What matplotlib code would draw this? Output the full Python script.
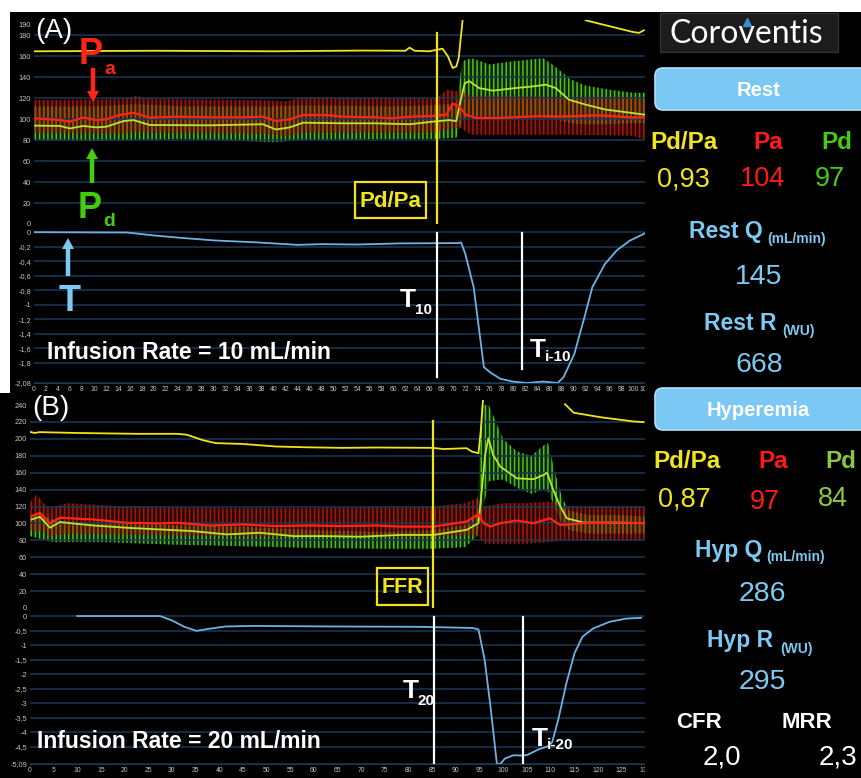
import numpy as np
import matplotlib
matplotlib.use('Agg')
import matplotlib.pyplot as plt
from matplotlib.patches import Rectangle, FancyBboxPatch

W, H = 861, 778
SANS = ['Liberation Sans', 'DejaVu Sans']
plt.rcParams['font.family'] = SANS
plt.rcParams['hatch.linewidth'] = 1.1

nan = np.nan

# ---------------- panel A : infusion 10 mL/min ----------------
a_xticks = list(range(0, 103, 2))
a_p_ticks = [0, 20, 40, 60, 80, 100, 120, 140, 160, 180, 190]
a_t_ticks = [0, -0.2, -0.4, -0.6, -0.8, -1, -1.2, -1.4, -1.6, -1.8, -2.08]
a_t_labels = ['0', '-0,2', '-0,4', '-0,6', '-0,8', '-1', '-1,2', '-1,4', '-1,6', '-1,8', '-2,08']

a_yel_x = [0, 20, 40, 55, 62, 62.7, 63.5, 66, 68.2, 69.1, 69.9, 70.5, 70.9, 71.6, nan,
           92.1, 96, 99.9, 101, 101.8]
a_yel_y = [164.5, 165, 164.5, 165.2, 165, 168, 165, 164.5, 167, 159.7, 148.6, 150, 158, 197, nan,
           194, 188.5, 183, 182, 184.5]

a_pa_x = [0, 4.3, 6, 8.2, 10.4, 12.1, 14.3, 16.6, 19.3, 23.8, 29.3, 34.9, 38.2, 40.4, 42.7,
          44.9, 48.8, 51.6, 57.1, 59.9, 62.7, 66.6, 68.8, 69.9, 71, 72.1, 73.8, 77.7, 83.2,
          88.8, 94.3, 99.9, 102]
a_pa_y = [100.6, 99, 97.5, 101.3, 99, 99.7, 103.8, 106, 101.3, 102.2, 101.6, 101.6, 102.2,
          98.1, 99.7, 103.8, 103.8, 102.2, 101.6, 100.6, 102.2, 103, 104, 114.6, 112, 104,
          101, 101, 102.5, 102.5, 103.5, 101.5, 101.5]

a_pd_x = [0, 4.3, 6, 8.2, 10.4, 12.1, 14.9, 16.6, 19.3, 29.3, 38.2, 40.4, 42.7, 44.9, 51.6,
          57.1, 62.7, 66.6, 69.3, 70.5, 71, 71.9, 72.7, 74.3, 76.6, 80.4, 83.2, 85.4, 87.1,
          89.3, 92.1, 95.4, 99.9, 102]
a_pd_y = [93.7, 93.4, 91, 93.4, 92, 92.7, 98, 99, 94.3, 94, 95, 90, 92, 96.5, 95.9, 95.9,
          95, 97.5, 99, 98, 112, 134, 136, 129.5, 127, 129.5, 131, 132.7, 129.5, 118.4,
          113.7, 109, 105.7, 104]

# pulsatile envelopes (diastolic / systolic)
a_pd_env_x = [0, 10, 17, 25, 40, 45, 60, 67, 70.5, 71.5, 73, 76, 80, 85, 87, 89.5, 92, 96, 100, 102]
a_pd_low = [80, 79, 80, 81, 78, 80, 81, 81, 82, 100, 102, 100, 100, 102, 100, 96, 95, 95, 96, 96]
a_pd_high = [112, 112, 114, 112, 112, 113, 112, 113, 115, 155, 158, 152, 155, 158, 150, 138,
             132, 128, 125, 125]
a_pa_env_x = [0, 15, 17, 20, 38, 42, 45, 67, 69, 71, 73, 80, 90, 100, 102]
a_pa_low = [87, 86, 88, 87, 86, 84, 87, 87, 90, 92, 85, 85, 85, 84, 80]
a_pa_high = [118, 119, 122, 119, 118, 117, 121, 119, 128, 126, 122, 122, 121, 121, 118]

a_t_x = [0, 15.6, 20, 24.8, 30.3, 37, 44, 48, 54, 61, 71, 71.3, 72, 73.4, 75.1, 76.1, 77.8,
         79.9, 82.3, 85, 87.4, 88.4, 90.2, 91.9, 93.2, 95.3, 97.3, 99.4, 102]
a_t_y = [0, -0.005, -0.045, -0.08, -0.115, -0.14, -0.175, -0.165, -0.17, -0.155, -0.15,
         -0.14, -0.3, -0.76, -1.86, -1.93, -2.02, -2.06, -2.08, -2.06, -2.08, -2.0, -1.68,
         -1.17, -0.76, -0.44, -0.25, -0.12, -0.015]

a_mark_ffr = 67.2
a_mark_t = 67.2
a_mark_ti = 81.4

# ---------------- panel B : infusion 20 mL/min ----------------
b_xticks = list(range(0, 131, 5))
b_p_ticks = [0, 20, 40, 60, 80, 100, 120, 140, 160, 180, 200, 220, 240]
b_t_ticks = [0, -0.5, -1, -1.5, -2, -2.5, -3, -3.5, -4, -4.5, -5.09]
b_t_labels = ['0', '-0,5', '-1', '-1,5', '-2', '-2,5', '-3', '-3,5', '-4', '-4,5', '-5,09']

b_yel_x = [0, 1, 2, 9.9, 22.6, 31, 33.1, 36.6, 39.3, 45, 52, 59, 66, 73.3, 85.1, 87.4, 92.3,
           93.4, 94.8, 95.3, 95.8, nan, 113.1, 114.9, 120.5, 127.6, 129.7]
b_yel_y = [208.3, 207, 208, 207, 206, 206, 205, 198.4, 195, 194, 191, 190, 189.4, 189.8,
           189.4, 188, 189, 185, 183, 210.7, 250, nan, 241, 231, 225.7, 220.6, 219.8]

b_pa_x = [0.35, 2.1, 4.2, 6.3, 13.4, 20.4, 27.5, 31, 38, 45, 52, 59.2, 66.2, 73.3, 78.2, 85.3,
          92.3, 94.8, 95.9, 97.3, 99.4, 102.9, 106.4, 109.9, 112.1, 117, 124.1, 129.7]
b_pa_y = [108.7, 112.6, 100, 106.7, 104.7, 100.8, 100, 100.8, 97.6, 98.8, 96.9, 97.6, 96.9,
          97.6, 96.3, 96.3, 102.2, 111.2, 100.3, 96.3, 100.3, 103.4, 100.3, 106, 98.2, 100.3,
          101.4, 100.3]

b_pd_x = [0.35, 2.1, 4.2, 6.3, 13.4, 20.4, 27.5, 34.5, 41.6, 48.6, 55.7, 62.7, 69.8, 78.2,
          85.3, 92.3, 94.8, 95.5, 96.2, 96.9, 97.9, 99.4, 102.9, 106.4, 108.6, 109.3, 110.6,
          112.1, 113.5, 117, 124.1, 129.7]
b_pd_y = [104.7, 107.9, 94.9, 101.6, 97.6, 94.9, 92.9, 90.9, 87, 89, 85, 85, 84.3, 86.4,
          86.4, 92.4, 100.3, 139.6, 181, 200.8, 181, 167.3, 153.4, 152.3, 157.5, 160.2, 139.6,
          119.9, 106, 101, 101, 100.3]

b_pd_env_x = [0, 2, 5, 15, 30, 45, 60, 75, 85, 92, 94.5, 95.5, 97, 100, 103, 106, 108.5, 109.5,
              111, 112.5, 114, 118, 125, 130]
b_pd_low = [85, 82, 78, 78, 75, 73, 71, 70, 70, 72, 85, 110, 150, 152, 142, 135, 140, 138, 118,
            100, 92, 88, 88, 88]
b_pd_high = [108, 112, 104, 100, 98, 96, 92, 90, 92, 98, 112, 240, 240, 200, 185, 180, 192, 195,
             160, 130, 115, 110, 110, 108]
b_pa_env_x = [0, 1.5, 2.5, 4, 8, 20, 40, 60, 85, 92, 94.5, 96, 100, 105, 110, 113, 120, 130]
b_pa_low = [92, 90, 92, 85, 88, 87, 85, 84, 84, 86, 86, 76, 76, 76, 78, 80, 80, 80]
b_pa_high = [125, 135, 126, 118, 124, 120, 118, 118, 120, 124, 130, 120, 124, 124, 126, 120, 120, 120]

b_t_x = [10, 27.5, 30, 32.6, 35.2, 37.8, 41.3, 47.3, 64.6, 81.9, 93.5, 94.8, 96.1, 97.4, 98.7,
         99.4, 100.4, 102.2, 104.2, 105.1, 107.6, 109.5, 110.4, 111.7, 113.4, 115.1, 116.8, 119,
         122.5, 125.9, 129.2]
b_t_y = [0, 0, -0.15, -0.37, -0.51, -0.44, -0.36, -0.34, -0.36, -0.37, -0.41, -0.46, -1.5,
         -3.2, -5.1, -5.09, -4.9, -4.79, -4.8, -4.78, -4.58, -4.48, -4.33, -3.54, -2.3, -1.28,
         -0.71, -0.43, -0.2, -0.09, -0.06]

b_mark_ffr = 85.2
b_mark_t = 85.3
b_mark_ti = 104.2

# side panel numbers
rest_vals = ['0,93', '104', '97', '145', '668']
hyp_vals = ['0,87', '97', '84', '286', '295']
cfr_mrr = ['2,0', '2,3']

# ---------------- colours ----------------
GRID = '#1b3857'
TICK = '#c4c4c4'
RED = '#ff2418'
GREEN = '#b6e634'
GREEN_P = '#4cc21a'
YELLOW = '#f2e41c'
TBLUE = '#6eb2e4'
LBLUE = '#7ec9f2'
BOX = '#7cc8f4'
PD_GREEN = '#44cc11'

fig = plt.figure(figsize=(W / 100, H / 100), dpi=100, facecolor='black')


def rect(x0, y0, x1, y1):
    # pixel box (top-left origin) -> figure fraction
    return [x0 / W, 1 - y1 / H, (x1 - x0) / W, (y1 - y0) / H]


def setup(ax, xlim, ylim, yticks, ylabels, xticks=None):
    ax.set_facecolor('black')
    ax.set_xlim(*xlim)
    ax.set_ylim(*ylim)
    ax.set_yticks(yticks, labels=ylabels)
    if xticks is None:
        ax.set_xticks([])
    else:
        ax.set_xticks(xticks, labels=[str(v) for v in xticks])
    ax.grid(axis='y', color=GRID, lw=1.1)
    ax.tick_params(length=0, labelcolor=TICK, pad=2)
    ax.tick_params(axis='y', labelsize=5.3)
    ax.tick_params(axis='x', labelsize=4.9)
    for s in ax.spines.values():
        s.set_visible(False)


def pressure_panel(ax, env_pd, env_pa, pd, pa, yel):
    ex, lo, hi = env_pd
    ax.fill_between(ex, lo, hi, facecolor=(0.2, 0.6, 0.05, 0.22), edgecolor=GREEN_P,
                    hatch='||||', linewidth=0)
    ex, lo, hi = env_pa
    ax.fill_between(ex, lo, hi, facecolor=(0.6, 0.1, 0.0, 0.25), edgecolor=(0.85, 0.12, 0.05, 0.72),
                    hatch='||||', linewidth=0)
    ax.plot(pd[0], pd[1], color=GREEN, lw=1.3)
    ax.plot(pa[0], pa[1], color=RED, lw=1.6)
    ax.plot(yel[0], yel[1], color=YELLOW, lw=1.3)


# ---- panel A axes ----
axA = fig.add_axes(rect(34, 20, 645, 224))
setup(axA, (0, 102), (0, 194.3), a_p_ticks, [str(v) for v in a_p_ticks])
axA.get_ygridlines()[0].set_visible(False)
axA.get_ygridlines()[-1].set_visible(False)
pressure_panel(axA, (a_pd_env_x, a_pd_low, a_pd_high), (a_pa_env_x, a_pa_low, a_pa_high),
               (a_pd_x, a_pd_y), (a_pa_x, a_pa_y), (a_yel_x, a_yel_y))
axA.axvline(a_mark_ffr, ymin=0.0, ymax=0.936, color=YELLOW, lw=1.6)

axAt = fig.add_axes(rect(34, 230, 645, 383))
setup(axAt, (0, 102), (-2.08, 0.03), a_t_ticks, a_t_labels, a_xticks)
axAt.spines['bottom'].set_visible(True)
axAt.spines['bottom'].set_color(GRID)
axAt.plot(a_t_x, a_t_y, color=TBLUE, lw=1.3)
axAt.axvline(a_mark_t, ymin=0.04, ymax=0.98, color='white', lw=1.6)
axAt.axvline(a_mark_ti, ymin=0.09, ymax=0.98, color='white', lw=1.6)

# ---- panel B axes ----
axB = fig.add_axes(rect(30, 400, 645, 608))
setup(axB, (0, 130), (0, 246), b_p_ticks, [str(v) for v in b_p_ticks])
axB.get_ygridlines()[0].set_visible(False)
axB.get_ygridlines()[-1].set_visible(False)
pressure_panel(axB, (b_pd_env_x, b_pd_low, b_pd_high), (b_pa_env_x, b_pa_low, b_pa_high),
               (b_pd_x, b_pd_y), (b_pa_x, b_pa_y), (b_yel_x, b_yel_y))
axB.axvline(b_mark_ffr, ymin=0.0, ymax=0.9, color=YELLOW, lw=1.6)

axBt = fig.add_axes(rect(30, 614, 645, 764))
setup(axBt, (0, 130), (-5.09, 0.07), b_t_ticks, b_t_labels, b_xticks)
axBt.spines['bottom'].set_visible(True)
axBt.spines['bottom'].set_color(GRID)
axBt.plot(b_t_x, b_t_y, color=TBLUE, lw=1.3)
axBt.axvline(b_mark_t, ymin=0.0, ymax=0.98, color='white', lw=1.6)
axBt.axvline(b_mark_ti, ymin=0.0, ymax=0.98, color='white', lw=1.6)

# ---- overlay in pixel coordinates for labels and the side panel ----
ov = fig.add_axes([0, 0, 1, 1])
ov.set_xlim(0, W)
ov.set_ylim(H, 0)
ov.axis('off')
ov.patch.set_visible(False)

ov.add_patch(Rectangle((0, 0), W, 12, color='white', lw=0))
ov.add_patch(Rectangle((0, 0), 10, 393, color='white', lw=0))
ov.add_patch(Rectangle((645, 12), W - 645, H, color='black', lw=0))


def txt(x, y, s, color, size, bold=False, ha='center', va='center', family=None):
    ov.text(x, y, s, color=color, fontsize=size, fontweight='bold' if bold else 'normal',
            ha=ha, va=va, family=family or SANS)


# panel labels
txt(54, 31, '(A)', 'white', 20)
txt(51, 408, '(B)', 'white', 20)

# Pa / Pd / T markers
txt(91, 64, 'P', RED, 26, bold=True, va='baseline')
txt(104, 74, 'a', RED, 14, bold=True, ha='left', va='baseline')
ov.arrow(93, 68, 0, 23, width=4.5, head_width=12, head_length=11, color=RED, lw=0)
ov.arrow(92, 183, 0, -24, width=4.5, head_width=12, head_length=11, color=PD_GREEN, lw=0)
txt(90, 218, 'P', PD_GREEN, 26, bold=True, va='baseline')
txt(103, 226, 'd', PD_GREEN, 14, bold=True, ha='left', va='baseline')
ov.arrow(68, 276, 0, -27, width=4.5, head_width=12, head_length=11, color=LBLUE, lw=0)
txt(70, 311, 'T', LBLUE, 26, bold=True, va='baseline')

# marker labels
for (x0, y0, x1, y1, s, fs) in [(355, 182, 426, 218, 'Pd/Pa', 16), (377, 568, 428, 605, 'FFR', 15.5)]:
    ov.add_patch(Rectangle((x0, y0), x1 - x0, y1 - y0, fill=False, ec=YELLOW, lw=1.6))
    txt((x0 + x1) / 2, (y0 + y1) / 2 + 1, s, YELLOW, fs, bold=True)

txt(416, 307, 'T', 'white', 19, bold=True, ha='right', va='baseline')
txt(415, 314, '10', 'white', 11, bold=True, ha='left', va='baseline')
txt(546, 357, 'T', 'white', 19, bold=True, ha='right', va='baseline')
txt(545, 361, 'i-10', 'white', 11, bold=True, ha='left', va='baseline')
txt(419, 698, 'T', 'white', 19, bold=True, ha='right', va='baseline')
txt(418, 705, '20', 'white', 11, bold=True, ha='left', va='baseline')
txt(548, 746, 'T', 'white', 19, bold=True, ha='right', va='baseline')
txt(547, 749, 'i-20', 'white', 11, bold=True, ha='left', va='baseline')

txt(47, 359, 'Infusion Rate = 10 mL/min', 'white', 16.5, bold=True, ha='left', va='baseline')
txt(37, 748, 'Infusion Rate = 20 mL/min', 'white', 16.5, bold=True, ha='left', va='baseline')

# ---- side panel ----
ov.add_patch(Rectangle((660, 13), 178, 39, fc='#1c1c1c', ec='#333333', lw=1))
txt(746, 34, 'Coroventis', 'white', 23, family=['Lato', 'DejaVu Sans'])
ov.plot([747], [22], marker='^', ms=6, color='#3a8fd0')

for y0, s in [(68, 'Rest'), (388, 'Hyperemia')]:
    ov.add_patch(FancyBboxPatch((655, y0), 215, 42, boxstyle='round,pad=0,rounding_size=8',
                                fc=BOX, ec='#b3e0fa', lw=1.2))
    txt(758, y0 + 22, s, 'white', 14.5, bold=True)

# rest block
txt(684, 142, 'Pd/Pa', YELLOW, 17.5, bold=True)
txt(768, 142, 'Pa', '#ff1a1a', 17.5, bold=True)
txt(837, 142, 'Pd', PD_GREEN, 17.5, bold=True)
txt(683, 179, rest_vals[0], YELLOW, 19.5)
txt(762, 179, rest_vals[1], '#ff1a1a', 19.5)
txt(830, 179, rest_vals[2], PD_GREEN, 19.5)
txt(763, 238, 'Rest Q', LBLUE, 16.5, bold=True, ha='right', va='baseline')
txt(767, 243, '(mL/min)', LBLUE, 10, bold=True, ha='left', va='baseline')
txt(759, 277, rest_vals[3], LBLUE, 20.5)
txt(777, 330, 'Rest R', LBLUE, 16.5, bold=True, ha='right', va='baseline')
txt(782, 335, '(WU)', LBLUE, 10, bold=True, ha='left', va='baseline')
txt(759, 365, rest_vals[4], LBLUE, 20.5)

# hyperemia block
txt(687, 461, 'Pd/Pa', YELLOW, 17.5, bold=True)
txt(773, 461, 'Pa', '#ff1a1a', 17.5, bold=True)
txt(841, 461, 'Pd', '#8cc63f', 17.5, bold=True)
txt(684, 499, hyp_vals[0], YELLOW, 19.5)
txt(765, 502, hyp_vals[1], '#ff1a1a', 19.5)
txt(833, 499, hyp_vals[2], '#8cc63f', 19.5)
txt(762, 557, 'Hyp Q', LBLUE, 16.5, bold=True, ha='right', va='baseline')
txt(766, 561, '(mL/min)', LBLUE, 10, bold=True, ha='left', va='baseline')
txt(762, 594, hyp_vals[3], LBLUE, 20.5)
txt(773, 647, 'Hyp R', LBLUE, 16.5, bold=True, ha='right', va='baseline')
txt(780, 653, '(WU)', LBLUE, 10, bold=True, ha='left', va='baseline')
txt(762, 682, hyp_vals[4], LBLUE, 20.5)

txt(699, 722, 'CFR', 'white', 16, bold=True)
txt(807, 722, 'MRR', 'white', 16, bold=True)
txt(722, 757, cfr_mrr[0], 'white', 20)
txt(838, 757, cfr_mrr[1], 'white', 20)

fig.savefig('out.png', dpi=100, facecolor=fig.get_facecolor())
